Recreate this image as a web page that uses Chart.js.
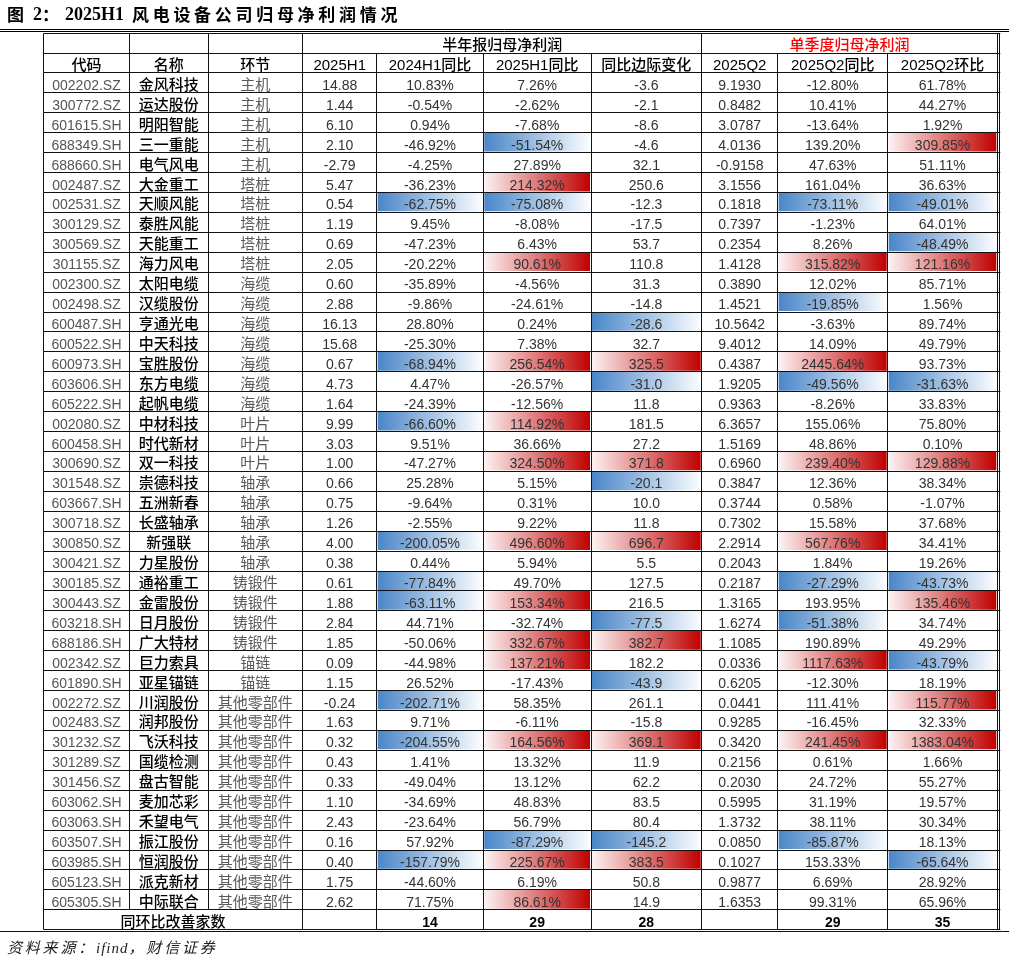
<!DOCTYPE html>
<html>
<head>
<meta charset="utf-8">
<script src="https://cdn.jsdelivr.net/npm/chart.js@4.4.1/dist/chart.umd.min.js"></script>
<style>
html,body{margin:0;padding:0;background:#fff;}
body{width:1009px;height:963px;position:relative;overflow:hidden;}
#c{position:absolute;left:0;top:0;}
.tt{position:absolute;white-space:nowrap;font-weight:bold;color:#000;line-height:20px;font-size:17px;font-family:"Noto Sans CJK SC",sans-serif;}
.lat{font-family:"Liberation Serif",serif;font-size:18px;}
.src{position:absolute;white-space:nowrap;font-style:italic;color:#222;line-height:20px;font-size:15px;font-family:"Noto Sans CJK SC",sans-serif;}
</style>
</head>
<body>
<canvas id="c" width="1009" height="963"></canvas>
<div class="tt" style="left:7px;top:4px;">图</div>
<div class="tt lat" style="left:33px;top:4px;">2</div>
<div class="tt" style="left:42px;top:4px;">：</div>
<div class="tt lat" style="left:65px;top:4px;">2025H1</div>
<div class="tt" style="left:132px;top:4px;letter-spacing:3.7px;">风电设备公司归母净利润情况</div>
<div class="src" style="left:7px;top:937px;letter-spacing:2.8px;">资料来源：<span style="font-family:'Liberation Serif',serif;letter-spacing:1px;">ifind</span>，财信证券</div>
<script>
// ---------------- data ----------------
const codes = ['002202.SZ','300772.SZ','601615.SH','688349.SH','688660.SH','002487.SZ','002531.SZ','300129.SZ','300569.SZ','301155.SZ',
 '002300.SZ','002498.SZ','600487.SH','600522.SH','600973.SH','603606.SH','605222.SH','002080.SZ','600458.SH','300690.SZ',
 '301548.SZ','603667.SH','300718.SZ','300850.SZ','300421.SZ','300185.SZ','300443.SZ','603218.SH','688186.SH','002342.SZ',
 '601890.SH','002272.SZ','002483.SZ','301232.SZ','301289.SZ','301456.SZ','603062.SH','603063.SH','603507.SH','603985.SH',
 '605123.SH','605305.SH'];
const names = ['金风科技','运达股份','明阳智能','三一重能','电气风电','大金重工','天顺风能','泰胜风能','天能重工','海力风电',
 '太阳电缆','汉缆股份','亨通光电','中天科技','宝胜股份','东方电缆','起帆电缆','中材科技','时代新材','双一科技',
 '崇德科技','五洲新春','长盛轴承','新强联','力星股份','通裕重工','金雷股份','日月股份','广大特材','巨力索具',
 '亚星锚链','川润股份','润邦股份','飞沃科技','国缆检测','盘古智能','麦加芯彩','禾望电气','振江股份','恒润股份',
 '派克新材','中际联合'];
const segments = ['主机','主机','主机','主机','主机','塔桩','塔桩','塔桩','塔桩','塔桩',
 '海缆','海缆','海缆','海缆','海缆','海缆','海缆','叶片','叶片','叶片',
 '轴承','轴承','轴承','轴承','轴承','铸锻件','铸锻件','铸锻件','铸锻件','锚链',
 '锚链','其他零部件','其他零部件','其他零部件','其他零部件','其他零部件','其他零部件','其他零部件','其他零部件','其他零部件',
 '其他零部件','其他零部件'];
const profitH1 = [14.88,1.44,6.10,2.10,-2.79,5.47,0.54,1.19,0.69,2.05,0.60,2.88,16.13,15.68,0.67,4.73,1.64,9.99,3.03,1.00,
 0.66,0.75,1.26,4.00,0.38,0.61,1.88,2.84,1.85,0.09,1.15,-0.24,1.63,0.32,0.43,0.33,1.10,2.43,0.16,0.40,1.75,2.62];
const yoy24H1 = [10.83,-0.54,0.94,-46.92,-4.25,-36.23,-62.75,9.45,-47.23,-20.22,-35.89,-9.86,28.80,-25.30,-68.94,4.47,-24.39,-66.60,9.51,-47.27,
 25.28,-9.64,-2.55,-200.05,0.44,-77.84,-63.11,44.71,-50.06,-44.98,26.52,-202.71,9.71,-204.55,1.41,-49.04,-34.69,-23.64,57.92,-157.79,-44.60,71.75];
const yoy25H1 = [7.26,-2.62,-7.68,-51.54,27.89,214.32,-75.08,-8.08,6.43,90.61,-4.56,-24.61,0.24,7.38,256.54,-26.57,-12.56,114.92,36.66,324.50,
 5.15,0.31,9.22,496.60,5.94,49.70,153.34,-32.74,332.67,137.21,-17.43,58.35,-6.11,164.56,13.32,13.12,48.83,56.79,-87.29,225.67,6.19,86.61];
const yoyDelta = [-3.6,-2.1,-8.6,-4.6,32.1,250.6,-12.3,-17.5,53.7,110.8,31.3,-14.8,-28.6,32.7,325.5,-31.0,11.8,181.5,27.2,371.8,
 -20.1,10.0,11.8,696.7,5.5,127.5,216.5,-77.5,382.7,182.2,-43.9,261.1,-15.8,369.1,11.9,62.2,83.5,80.4,-145.2,383.5,50.8,14.9];
const profitQ2 = [9.1930,0.8482,3.0787,4.0136,-0.9158,3.1556,0.1818,0.7397,0.2354,1.4128,0.3890,1.4521,10.5642,9.4012,0.4387,1.9205,0.9363,6.3657,1.5169,0.6960,
 0.3847,0.3744,0.7302,2.2914,0.2043,0.2187,1.3165,1.6274,1.1085,0.0336,0.6205,0.0441,0.9285,0.3420,0.2156,0.2030,0.5995,1.3732,0.0850,0.1027,0.9877,1.6353];
const yoyQ2 = [-12.80,10.41,-13.64,139.20,47.63,161.04,-73.11,-1.23,8.26,315.82,12.02,-19.85,-3.63,14.09,2445.64,-49.56,-8.26,155.06,48.86,239.40,
 12.36,0.58,15.58,567.76,1.84,-27.29,193.95,-51.38,190.89,1117.63,-12.30,111.41,-16.45,241.45,0.61,24.72,31.19,38.11,-85.87,153.33,6.69,99.31];
const qoqQ2 = [61.78,44.27,1.92,309.85,51.11,36.63,-49.01,64.01,-48.49,121.16,85.71,1.56,89.74,49.79,93.73,-31.63,33.83,75.80,0.10,129.88,
 38.34,-1.07,37.68,34.41,19.26,-43.73,135.46,34.74,49.29,-43.79,18.19,115.77,32.33,1383.04,1.66,55.27,19.57,30.34,18.13,-65.64,28.92,65.96];

const headerTop = ['半年报归母净利润','单季度归母净利润'];
const headerCols = ['代码','名称','环节','2025H1','2024H1同比','2025H1同比','同比边际变化','2025Q2','2025Q2同比','2025Q2环比'];
const footerLabel = '同环比改善家数';
const improvedCounts = [null,14,29,28,null,29,35]; // columns 2025H1 .. 2025Q2环比

// highlighted cells (row indices), per column
const hl24Blue = [6,14,17,23,25,26,31,33,39];
const hl25Blue = [3,6,38];
const hl25Red  = [5,9,14,17,19,23,26,28,29,33,39,41];
const hlDeltaBlue = [12,15,20,27,30,38];
const hlDeltaRed  = [14,19,23,28,33,39];
const hlQ2YoyBlue = [6,11,15,25,27,38];
const hlQ2YoyRed  = [9,14,19,23,29,33];
const hlQ2QoqBlue = [6,8,15,25,29,39];
const hlQ2QoqRed  = [3,9,19,26,31,33];

// ---------------- layout (not data) ----------------
const EDGES = [43.5,129.5,208,302.7,376.7,483.3,591,701.7,777.7,887.7,997.3];
const OUTER_RIGHT = 999.8;
const rowKeys = ['hdr1','hdr2'].concat(codes).concat(['footer']);
const NROWS = rowKeys.length;

const fmt = (v,d) => v.toFixed(d);
const pct = v => v.toFixed(2) + '%';

const hlItems = [];
function addHl(col, rows, tone){
  rows.forEach(r => hlItems.push({x:[EDGES[col]+1, EDGES[col+1]-1], y: rowKeys[r+2], tone}));
}
addHl(4, hl24Blue, 'b');
addHl(5, hl25Blue, 'b'); addHl(5, hl25Red, 'r');
addHl(6, hlDeltaBlue, 'b'); addHl(6, hlDeltaRed, 'r');
addHl(8, hlQ2YoyBlue, 'b'); addHl(8, hlQ2YoyRed, 'r');
addHl(9, hlQ2QoqBlue, 'b'); addHl(9, hlQ2QoqRed, 'r');

const LAT = '"Liberation Sans","Noto Sans CJK SC",sans-serif';
const CJK = '"Noto Sans CJK SC",sans-serif';

function cellGradient(chart, raw){
  const xs = chart.scales && chart.scales.x;
  const fallback = raw && raw.tone === 'b' ? '#9dbde3' : '#e08080';
  if (!xs) return fallback;
  const x0 = xs.getPixelForValue(raw.x[0]), x1 = xs.getPixelForValue(raw.x[1]);
  if (!isFinite(x0) || !isFinite(x1) || x1 <= x0) return fallback;
  const g = chart.ctx.createLinearGradient(x0, 0, x1, 0);
  if (raw.tone === 'b'){ g.addColorStop(0,'#4a86c8'); g.addColorStop(1,'#fbfdff'); }
  else { g.addColorStop(0,'#fdf2f2'); g.addColorStop(1,'#c00000'); }
  return g;
}

const tablePlugin = {
  id: 'tableDraw',
  beforeDraw(chart){
    const ctx = chart.ctx;
    ctx.save();
    ctx.fillStyle = '#fff';
    ctx.fillRect(0,0,chart.width,chart.height);
    ctx.restore();
  },
  beforeDatasetsDraw(chart){
    const meta = chart.getDatasetMeta(0);
    meta.data.forEach((el, i) => {
      const raw = chart.data.datasets[0].data[i];
      if (el.options) el.options.backgroundColor = cellGradient(chart, raw);
    });
  },
  afterDatasetsDraw(chart){
    const {ctx, scales:{x, y}} = chart;
    const band = Math.abs(y.getPixelForValue(1) - y.getPixelForValue(0));
    const rc = i => y.getPixelForValue(i);
    const rowTop = i => (i < NROWS ? rc(i) - band/2 : rc(NROWS-1) + band/2);
    const X = v => x.getPixelForValue(v);
    const snap = v => Math.round(v) + 0.5;
    ctx.save();
    // page rules
    ctx.strokeStyle = '#000';
    ctx.lineWidth = 1;
    [29.5, 31.5].forEach(yy => { ctx.beginPath(); ctx.moveTo(0,yy); ctx.lineTo(chart.width,yy); ctx.stroke(); });

    // grid: horizontal
    ctx.strokeStyle = '#111';
    ctx.lineWidth = 1;
    for (let k = 0; k <= NROWS; k++){
      const yy = snap(rowTop(k));
      ctx.beginPath(); ctx.moveTo(X(EDGES[0]), yy); ctx.lineTo(X(OUTER_RIGHT)+0.5, yy); ctx.stroke();
    }
    // bottom page rule
    const yb = snap(rowTop(NROWS)) + 2;
    ctx.lineWidth = 1.2;
    ctx.beginPath(); ctx.moveTo(0, yb); ctx.lineTo(chart.width, yb); ctx.stroke();
    ctx.lineWidth = 1;
    // grid: vertical
    for (let r = 0; r < NROWS; r++){
      let cols;
      if (r === 0) cols = [0,1,2,3,7,10];
      else if (r === NROWS-1) cols = [0,3,4,5,6,7,8,9,10];
      else cols = [0,1,2,3,4,5,6,7,8,9,10];
      const y0 = rowTop(r), y1 = rowTop(r+1);
      cols.forEach(j => {
        const xx = snap(X(EDGES[j]) - 0.5);
        ctx.beginPath(); ctx.moveTo(xx, snap(y0)); ctx.lineTo(xx, snap(y1)); ctx.stroke();
      });
      const xo = snap(X(OUTER_RIGHT) - 0.5);
      ctx.beginPath(); ctx.moveTo(xo, snap(y0)); ctx.lineTo(xo, snap(y1)); ctx.stroke();
    }

    // text
    const BASE = 7.5;
    const cx = (a,b) => (X(EDGES[a]) + X(EDGES[b])) / 2;
    const put = (txt, xx, r, font, color) => {
      ctx.font = font; ctx.fillStyle = color;
      ctx.textAlign = 'center'; ctx.textBaseline = 'alphabetic';
      ctx.fillText(txt, xx, rc(r) + BASE);
    };
    put(headerTop[0], cx(3,7), 0, '500 15px ' + CJK, '#000');
    put(headerTop[1], cx(7,10), 0, '500 15px ' + CJK, '#ff0000');
    headerCols.forEach((h,j) => put(h, cx(j,j+1), 1, '500 15px ' + LAT, '#000'));

    for (let i = 0; i < codes.length; i++){
      const r = i + 2;
      put(codes[i], cx(0,1), r, '14px ' + LAT, '#555');
      put(names[i], cx(1,2), r, '500 15px ' + CJK, '#000');
      put(segments[i], cx(2,3), r, '15px ' + CJK, '#5a5a5a');
      const vals = [fmt(profitH1[i],2), pct(yoy24H1[i]), pct(yoy25H1[i]), fmt(yoyDelta[i],1),
                    fmt(profitQ2[i],4), pct(yoyQ2[i]), pct(qoqQ2[i])];
      vals.forEach((v,k) => put(v, cx(k+3,k+4), r, '14px ' + LAT, '#333'));
    }
    const fr = NROWS - 1;
    put(footerLabel, cx(0,3), fr, '500 15px ' + CJK, '#000');
    improvedCounts.forEach((v,k) => { if (v !== null) put(String(v), cx(k+3,k+4), fr, 'bold 14px ' + LAT, '#000'); });
    ctx.restore();
  }
};

new Chart(document.getElementById('c'), {
  type: 'bar',
  data: {
    labels: rowKeys,
    datasets: [{
      label: 'highlight',
      data: hlItems,
      grouped: false,
      barPercentage: 1,
      categoryPercentage: 0.94,
      borderWidth: 0,
      borderSkipped: false,
      backgroundColor(c){
        if (c.type !== 'data' || !c.raw) return 'rgba(0,0,0,0)';
        return cellGradient(c.chart, c.raw);
      }
    }]
  },
  options: {
    responsive: false,
    animation: false,
    indexAxis: 'y',
    layout: { padding: { left: 43, right: 9, top: 32.6, bottom: 33.8 } },
    plugins: { legend: { display: false }, tooltip: { enabled: false } },
    scales: {
      x: { type: 'linear', min: 43, max: 1000, display: false },
      y: { type: 'category', display: false, offset: true }
    }
  },
  plugins: [tablePlugin]
});
</script>
</body>
</html>
